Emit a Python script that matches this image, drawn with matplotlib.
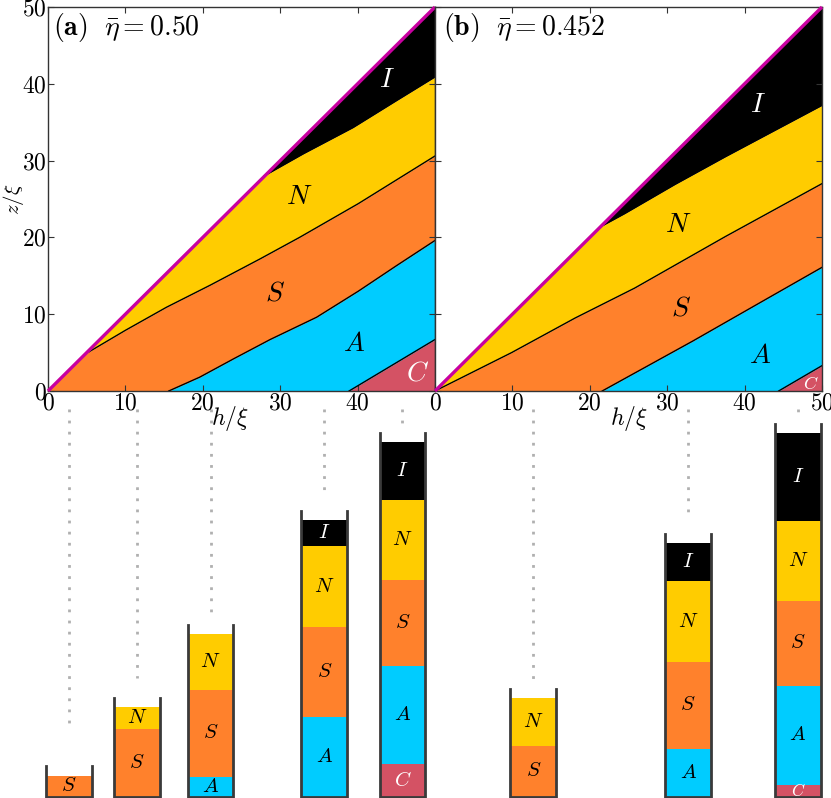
import numpy as np
import matplotlib
matplotlib.use('Agg')
import matplotlib.pyplot as plt

plt.rcParams['mathtext.fontset'] = 'cm'
plt.rcParams['font.family'] = 'serif'
plt.rcParams['font.serif'] = ['cmr10', 'DejaVu Serif']
plt.rcParams['axes.formatter.use_mathtext'] = True

# phase boundaries (h, z)
# panel (a), eta = 0.50
a_IN_h = [27.9, 33.0, 39.4, 45.0, 50.0]
a_IN_z = [28.0, 30.9, 34.3, 37.8, 40.9]
a_NS_h = [5.3, 10.0, 15.3, 21.0, 27.4, 32.5, 40.1, 50.0]
a_NS_z = [5.1, 7.9, 10.9, 13.8, 17.2, 20.0, 24.4, 30.6]
a_SA_h = [15.6, 19.6, 24.0, 28.7, 34.7, 40.1, 45.0, 50.0]
a_SA_z = [0.0, 1.8, 4.2, 6.7, 9.6, 13.0, 16.3, 19.6]
a_AC_h = [38.9, 50.0]
a_AC_z = [0.0, 6.7]
# panel (b), eta = 0.452
b_IN_h = [21.4, 24.5, 31.0, 37.5, 50.0]
b_IN_z = [21.4, 23.1, 26.9, 30.5, 37.2]
b_NS_h = [0.0, 9.9, 18.1, 25.8, 37.5, 50.0]
b_NS_z = [0.0, 5.0, 9.5, 13.4, 20.1, 27.0]
b_SA_h = [21.6, 33.3, 42.6, 50.0]
b_SA_z = [0.0, 6.5, 11.85, 16.1]
b_AC_h = [44.4, 50.0]
b_AC_z = [0.0, 3.3]

# phase label positions
phases = ['C', 'A', 'S', 'N', 'I']
a_lab_h = [47.7, 39.5, 29.3, 32.5, 43.8]
a_lab_z = [2.3, 6.2, 12.7, 25.3, 40.5]
b_lab_h = [48.6, 42.0, 31.8, 31.4, 41.7]
b_lab_z = [1.0, 4.6, 10.7, 21.6, 37.2]

# columns (vertical cuts) and where their dotted guides end
a_cols = [2.7, 11.5, 21.0, 35.7, 45.8]
a_dots = [8.4, 15.3, 22.9, 38.8, 47.7]
b_cols = [12.7, 32.7, 46.9]
b_dots = [15.0, 35.7, 48.8]

colors = {'C': '#D45264', 'A': '#00CCFF', 'S': '#FF812C', 'N': '#FFCC00', 'I': '#000000'}
text_col = {'C': 'white', 'A': 'black', 'S': 'black', 'N': 'black', 'I': 'white'}
magenta = '#C800A0'


def level(h, xs, zs, diag):
    h = np.asarray(h, dtype=float)
    z = np.interp(h, xs, zs)
    below = h if diag else np.zeros_like(h)
    z = np.where(h < xs[0], below, z)
    return np.clip(z, 0, h)


def layers(h, d):
    ac = level(h, d['AC'][0], d['AC'][1], False)
    sa = np.maximum(level(h, d['SA'][0], d['SA'][1], False), ac)
    ns = np.maximum(level(h, d['NS'][0], d['NS'][1], True), sa)
    inn = np.maximum(level(h, d['IN'][0], d['IN'][1], True), ns)
    top = np.asarray(h, dtype=float)
    return [np.zeros_like(top), ac, sa, ns, inn, top]


da = {'IN': (a_IN_h, a_IN_z), 'NS': (a_NS_h, a_NS_z), 'SA': (a_SA_h, a_SA_z), 'AC': (a_AC_h, a_AC_z)}
db = {'IN': (b_IN_h, b_IN_z), 'NS': (b_NS_h, b_NS_z), 'SA': (b_SA_h, b_SA_z), 'AC': (b_AC_h, b_AC_z)}

fig = plt.figure(figsize=(8.31, 7.98), dpi=100)
W, H = 831, 798
axa = fig.add_axes([48 / W, (H - 391) / H, 387 / W, 384 / H])
axb = fig.add_axes([435 / W, (H - 391) / H, 387 / W, 384 / H])

panels = [(axa, da, a_lab_h, a_lab_z, r'$\mathbf{(a)}\ \ \bar{\eta} = 0.50$', 0.47),
          (axb, db, b_lab_h, b_lab_z, r'$\mathbf{(b)}\ \ \bar{\eta} = 0.452$', 0.50)]

hg = np.linspace(0, 50, 1001)
for i, (ax, d, lh, lz, title, xl) in enumerate(panels):
    lv = layers(hg, d)
    for k, p in enumerate(phases):
        ax.fill_between(hg, lv[k], lv[k + 1], color=colors[p], lw=0)
    for key in ['IN', 'NS', 'SA', 'AC']:
        ax.plot(d[key][0], d[key][1], color='black', lw=1.0)
    ax.plot([0, 50], [0, 50], color=magenta, lw=2.4, clip_on=False, zorder=5,
            solid_capstyle='butt')
    for k, p in enumerate(phases):
        fs = 20
        if p == 'C' and i == 1:
            fs = 13
        ax.text(lh[k], lz[k], '$' + p + '$', color=text_col[p], fontsize=fs,
                ha='center', va='center')
    ax.set_xlim(0, 50)
    ax.set_ylim(0, 50)
    ax.set_xticks([0, 10, 20, 30, 40, 50])
    ax.set_yticks([0, 10, 20, 30, 40, 50])
    ax.tick_params(direction='in', top=True, right=True, length=4, labelsize=17,
                   color='#333333', pad=1)
    if i == 0:
        ax.set_xticklabels(['$0$', '$10$', '$20$', '$30$', '$40$', ''])
        ax.set_yticklabels(['$0$', '$10$', '$20$', '$30$', '$40$', '$50$'])
        ax.text(-0.088, 0.5, r'$z/\xi$', transform=ax.transAxes, rotation=90,
                fontsize=15, ha='center', va='center')
    else:
        ax.set_xticklabels(['$0$', '$10$', '$20$', '$30$', '$40$', '$50$'])
        ax.set_yticklabels([])
    ax.text(xl, -0.035, r'$h/\xi$', transform=ax.transAxes, fontsize=17,
            ha='center', va='top')
    ax.text(0.012 if i == 0 else 0.02, 0.946, title, transform=ax.transAxes,
            fontsize=20, ha='left', va='center')
    for s in ax.spines.values():
        s.set_color('#333333')
        s.set_linewidth(1.0)

# bottom strip with the columns, same scale as the panels (7.74 px per unit)
scale = 7.74
axc = fig.add_axes([0, 0, 1, 391 / H], zorder=-1)
axc.set_xlim(-48 / scale, -48 / scale + W / scale)
axc.set_ylim(-1.5 / scale, -1.5 / scale + 391 / scale)
axc.axis('off')

cw = 5.9
cols = [(c, dt, da, 0.0) for c, dt in zip(a_cols, a_dots)] + \
       [(c, dt, db, 50.0) for c, dt in zip(b_cols, b_dots)]
for h, dot_end, d, off in cols:
    x = h + off
    lv = [float(v) for v in layers(h, d)]
    axc.plot([x, x], [50.0, dot_end], color='#B0B0B0', lw=2.0,
             linestyle=(0, (1, 3)))
    for k, p in enumerate(phases):
        t = lv[k + 1] - lv[k]
        if t <= 0:
            continue
        axc.bar(x, t, width=cw, bottom=lv[k], color=colors[p], lw=0)
        if t > 1.2:
            fs = 15 if t > 2.5 else 12
            axc.text(x, lv[k] + t / 2, '$' + p + '$', color=text_col[p],
                     fontsize=fs, ha='center', va='center')
    axc.plot([x - cw / 2, x - cw / 2, x + cw / 2, x + cw / 2],
             [h + 1.2, 0, 0, h + 1.2], color='#3A3A3A', lw=2.0,
             solid_joinstyle='miter')

fig.savefig('out.png', dpi=100)
